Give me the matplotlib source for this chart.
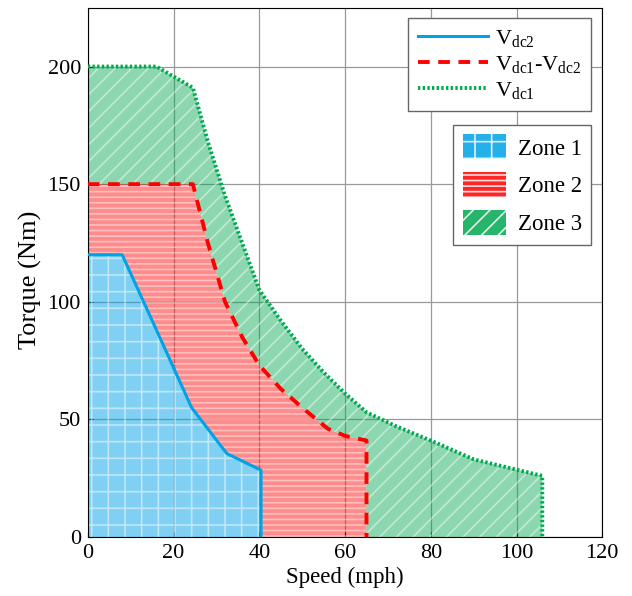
import matplotlib
matplotlib.use("Agg")
import matplotlib.pyplot as plt
from matplotlib.patches import Patch
import numpy as np

plt.rcParams['font.family'] = ['Liberation Serif', 'DejaVu Serif']
plt.rcParams['mathtext.fontset'] = 'custom'
plt.rcParams['mathtext.rm'] = 'Liberation Serif'
plt.rcParams['mathtext.it'] = 'Liberation Serif'
plt.rcParams['hatch.linewidth'] = 1.2

# Vdc2 boundary (Zone 1)
vdc2_speed = [0, 8, 16, 24.2, 32.4, 40.4, 40.4]
vdc2_torque = [120, 120, 88, 55, 35.5, 28.4, 0]
# Vdc1-Vdc2 boundary (Zone 2)
vdc12_speed = [0, 24.5, 28, 32, 36, 40, 45, 50, 56, 60, 65, 65]
vdc12_torque = [150, 150, 125, 100, 85, 73, 63, 55, 46, 43, 41, 0]
# Vdc1 boundary (Zone 3)
vdc1_speed = [0, 16, 24.5, 28, 32, 36, 40, 45, 50, 55, 60, 65, 72, 80, 90, 106, 106]
vdc1_torque = [200, 200, 191, 168, 145, 125, 105, 92, 80, 70, 61, 53, 47, 41, 33, 26, 0]

xticks = [0, 20, 40, 60, 80, 100, 120]
yticks = [0, 50, 100, 150, 200]

c_blue = '#00a3e6'
c_red = '#ff0000'
c_green = '#00a850'

fig = plt.figure(figsize=(6.32, 5.96), dpi=100)
ax = fig.add_axes([0.139, 0.099, 0.814, 0.888])
ax.set_xlim(0, 120)
ax.set_ylim(0, 225)
ax.set_xticks(xticks)
ax.set_yticks(yticks)
ax.grid(True, color='#999999', linewidth=0.9)
ax.set_axisbelow(True)

# Zone 1 polygon
z1x = [0] + vdc2_speed
z1y = [0] + vdc2_torque
# Zone 2 polygon
z2x = vdc12_speed + vdc2_speed[::-1]
z2y = vdc12_torque + vdc2_torque[::-1]
# Zone 3 polygon
z3x = vdc1_speed + vdc12_speed[::-1]
z3y = vdc1_torque + vdc12_torque[::-1]

ax.fill(z1x, z1y, facecolor=c_blue, alpha=0.5, hatch='+', edgecolor='white', linewidth=0, zorder=1)
ax.fill(z2x, z2y, facecolor=c_red, alpha=0.45, hatch='---', edgecolor='white', linewidth=0, zorder=1)
ax.fill(z3x, z3y, facecolor=c_green, alpha=0.45, hatch='//', edgecolor='white', linewidth=0, zorder=1)

l1, = ax.plot(vdc2_speed, vdc2_torque, color=c_blue, linewidth=2.2, zorder=3)
l2, = ax.plot(vdc12_speed, vdc12_torque, color=c_red, linewidth=2.8, linestyle=(0, (3, 2.2)), zorder=3)
l3, = ax.plot(vdc1_speed, vdc1_torque, color=c_green, linewidth=2.8, linestyle=(0, (0.6, 0.6)), zorder=3)

ax.tick_params(direction='in', labelsize=16, top=False, right=False, pad=5)
ax.set_xlabel('Speed (mph)', fontsize=16.5, labelpad=3)
ax.set_ylabel('Torque (Nm)', fontsize=19, labelpad=4)
ax.yaxis.set_label_coords(-0.09, 0.485)

leg1 = ax.legend([l1, l2, l3],
                 [r'V$_{\rm dc2}$', r'V$_{\rm dc1}$-V$_{\rm dc2}$', r'V$_{\rm dc1}$'],
                 loc='upper right', bbox_to_anchor=(0.979, 0.981), fontsize=16,
                 handlelength=3.15, handletextpad=0.3, labelspacing=0.22,
                 borderpad=0.45, fancybox=False, edgecolor='#666666', framealpha=1,
                 borderaxespad=0)
leg1.get_frame().set_linewidth(1.0)
ax.add_artist(leg1)

patches = [Patch(facecolor=c_blue, edgecolor='white', hatch='+', linewidth=0, alpha=0.85),
           Patch(facecolor=c_red, edgecolor='white', hatch='---', linewidth=0, alpha=0.85),
           Patch(facecolor=c_green, edgecolor='white', hatch='//', linewidth=0, alpha=0.85)]
leg2 = ax.legend(patches, ['Zone 1', 'Zone 2', 'Zone 3'],
                 loc='upper right', bbox_to_anchor=(0.979, 0.779), fontsize=16.5,
                 handlelength=1.88, handleheight=1.31, handletextpad=0.52, labelspacing=0.55,
                 borderpad=0.42, fancybox=False, edgecolor='#666666', framealpha=1,
                 borderaxespad=0)
leg2.get_frame().set_linewidth(1.0)

fig.savefig('out.png', dpi=100)
